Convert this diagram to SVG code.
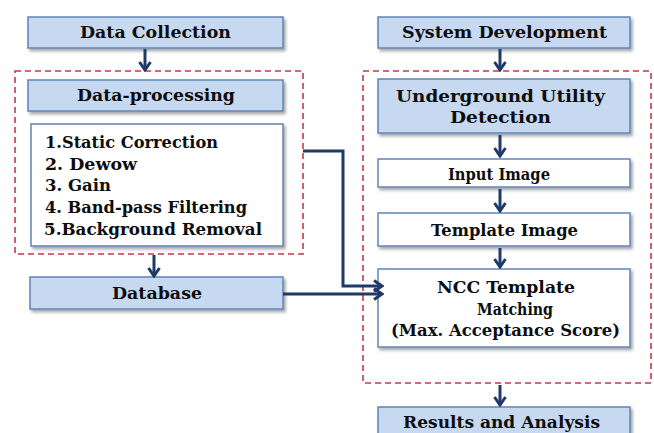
<svg xmlns="http://www.w3.org/2000/svg" width="654" height="433" viewBox="0 0 654 433">
  <style>
    .blue { fill: #c6d9f1; stroke: #5f84b8; stroke-width: 1.5; filter: url(#shadow); }
    .white { fill: #ffffff; stroke: #5f84b8; stroke-width: 1.5; filter: url(#shadow); }
    .group { fill: none; stroke: #c23a48; stroke-width: 1.6; stroke-dasharray: 6 4; }
    .t { font-family: 'DejaVu Serif', 'Liberation Serif', serif; font-weight: bold; font-size: 16.5px; fill: #0d0d0d; }
    .link { fill: none; stroke: #1f3a68; stroke-width: 3; marker-end: url(#chev); }
  </style>
  <defs>
    <filter id="shadow" x="-10%" y="-20%" width="125%" height="150%">
      <feDropShadow dx="2" dy="2.5" stdDeviation="1.5" flood-color="#000000" flood-opacity="0.35"/>
    </filter>
    <marker id="chev" viewBox="0 0 14 14" refX="12" refY="7" markerWidth="14" markerHeight="14" markerUnits="userSpaceOnUse" orient="auto">
      <path d="M4,1.5 L12,7 L4,12.5" fill="none" stroke="#1f3a68" stroke-width="3" stroke-linejoin="miter"/>
    </marker>
  </defs>

  <!-- dashed grouping frames -->
  <rect class="group" x="15" y="71" width="288" height="183"/>
  <rect class="group" x="363" y="71" width="288" height="312"/>

  <!-- left column -->
  <g id="data-collection">
    <rect class="blue" x="28" y="17" width="255" height="31"/>
    <text class="t" x="80" y="38" textLength="151" lengthAdjust="spacingAndGlyphs">Data Collection</text>
  </g>
  <g id="data-processing">
    <rect class="blue" x="28" y="80" width="255" height="31"/>
    <text class="t" x="77" y="101" textLength="158" lengthAdjust="spacingAndGlyphs">Data-processing</text>
  </g>
  <g id="processing-steps">
    <rect class="white" x="31" y="124" width="252" height="122"/>
    <text class="t" x="45" y="148" textLength="173" lengthAdjust="spacingAndGlyphs">1.Static Correction</text>
    <text class="t" x="45" y="170" textLength="92" lengthAdjust="spacingAndGlyphs">2. Dewow</text>
    <text class="t" x="45" y="191" textLength="66" lengthAdjust="spacingAndGlyphs">3. Gain</text>
    <text class="t" x="45" y="213" textLength="202" lengthAdjust="spacingAndGlyphs">4. Band-pass Filtering</text>
    <text class="t" x="44" y="235" textLength="218" lengthAdjust="spacingAndGlyphs">5.Background Removal</text>
  </g>
  <g id="database">
    <rect class="blue" x="30" y="277" width="253" height="32"/>
    <text class="t" x="112" y="299" textLength="90" lengthAdjust="spacingAndGlyphs">Database</text>
  </g>

  <!-- right column -->
  <g id="system-development">
    <rect class="blue" x="378" y="17" width="252" height="31"/>
    <text class="t" x="402" y="38" textLength="205" lengthAdjust="spacingAndGlyphs">System Development</text>
  </g>
  <g id="utility-detection">
    <rect class="blue" x="378" y="79" width="252" height="54"/>
    <text class="t" x="396" y="102" textLength="209" lengthAdjust="spacingAndGlyphs">Underground Utility</text>
    <text class="t" x="450" y="123" textLength="101" lengthAdjust="spacingAndGlyphs">Detection</text>
  </g>
  <g id="input-image">
    <rect class="white" x="378" y="159" width="252" height="28"/>
    <text class="t" x="448" y="180" textLength="102" lengthAdjust="spacingAndGlyphs">Input Image</text>
  </g>
  <g id="template-image">
    <rect class="white" x="378" y="213" width="252" height="33"/>
    <text class="t" x="431" y="236" textLength="147" lengthAdjust="spacingAndGlyphs">Template Image</text>
  </g>
  <g id="ncc-matching">
    <rect class="white" x="378" y="269" width="252" height="78"/>
    <text class="t" x="437" y="293" textLength="138" lengthAdjust="spacingAndGlyphs">NCC Template</text>
    <text class="t" x="477" y="315" textLength="76" lengthAdjust="spacingAndGlyphs">Matching</text>
    <text class="t" x="391" y="336" textLength="229" lengthAdjust="spacingAndGlyphs">(Max. Acceptance Score)</text>
  </g>
  <g id="results">
    <rect class="blue" x="378" y="407" width="252" height="40"/>
    <text class="t" x="403" y="428" textLength="197" lengthAdjust="spacingAndGlyphs">Results and Analysis</text>
  </g>

  <!-- connectors -->
  <g id="connectors">
    <path class="link" d="M145,49 V70"/>
    <path class="link" d="M154,255 V276"/>
    <path class="link" d="M500,49 V70"/>
    <path class="link" d="M500,135 V156"/>
    <path class="link" d="M500,189 V211"/>
    <path class="link" d="M500,248 V267"/>
    <path class="link" d="M500,385 V405"/>
    <path class="link" d="M303,151 H343 V286 H382"/>
    <path class="link" d="M283,294 H382"/>
  </g>
</svg>
